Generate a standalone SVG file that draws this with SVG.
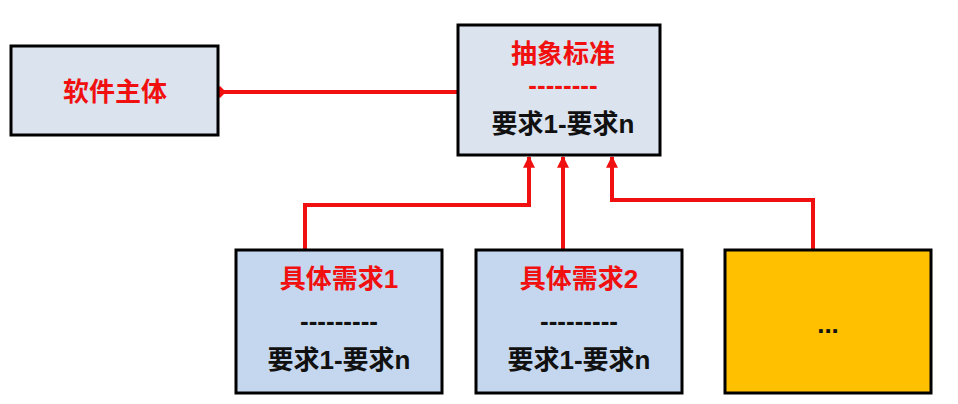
<svg xmlns="http://www.w3.org/2000/svg" width="958" height="404" viewBox="0 0 958 404">
<style>
.box{fill:#dbe3ef;stroke:#000;stroke-width:3}
.box2{fill:#c5d7ee;stroke:#000;stroke-width:3}
.t{font-family:"Liberation Sans","Noto Sans CJK SC",sans-serif;font-weight:bold;font-size:26px;text-anchor:middle}
.r{fill:#f01010}
.k{fill:#111}
.c{fill:none;stroke:#f01010;stroke-width:4}
</style>
<defs>
<marker id="ah" viewBox="0 0 10 10" refX="9" refY="5" markerWidth="3" markerHeight="3.5" orient="auto" markerUnits="strokeWidth"><path d="M0,0L10,5L0,10z" fill="#f01010"/></marker>
</defs>
<g id="connectors">
<path class="c" d="M458,92H220"/>
<path d="M214,92L220,86L226,92L220,98z" fill="#f01010"/>
<path class="c" d="M305,250V205H529V157" marker-end="url(#ah)"/>
<path class="c" d="M563,250V157" marker-end="url(#ah)"/>
<path class="c" d="M813,250V200H612V157" marker-end="url(#ah)"/>
</g>
<g id="main"><rect class="box" x="11" y="46" width="207" height="89"/><text class="t r" x="115" y="101">软件主体</text></g>
<g id="abstract"><rect class="box" x="458" y="25" width="202" height="130"/><text class="t r" x="563" y="63">抽象标准</text><text class="t r" x="563" y="94">--------</text><text class="t k" x="563" y="133">要求1-要求n</text></g>
<g id="req1"><rect class="box2" x="236" y="250" width="206" height="143"/><text class="t r" x="339" y="288">具体需求1</text><text class="t k" x="339" y="330">---------</text><text class="t k" x="339" y="369">要求1-要求n</text></g>
<g id="req2"><rect class="box2" x="476" y="250" width="206" height="143"/><text class="t r" x="579" y="288">具体需求2</text><text class="t k" x="579" y="330">---------</text><text class="t k" x="579" y="369">要求1-要求n</text></g>
<g id="more"><rect x="725" y="250" width="206" height="143" fill="#ffc000" stroke="#000" stroke-width="3"/><text class="t k" x="828" y="333" font-size="18">...</text></g>
</svg>
